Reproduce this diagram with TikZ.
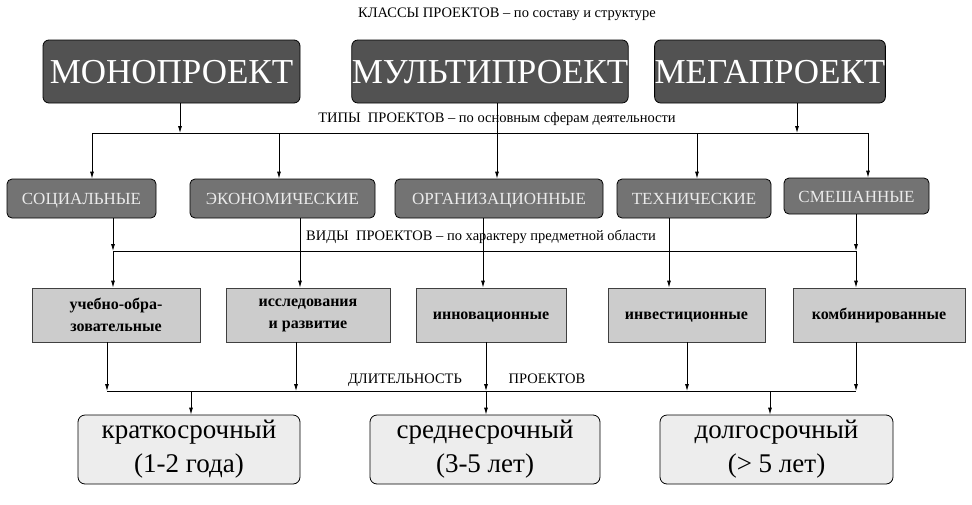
\documentclass[tikz,border=0pt]{standalone}
\usepackage{fontspec}
\setmainfont{Liberation Serif}
\usetikzlibrary{arrows.meta}
\begin{document}
\begin{tikzpicture}[x=1pt,y=-1pt,
 topbox/.style={draw=black,line width=0.8pt,rounded corners=6pt,fill=black!68,text=white,font=\fontsize{35}{38}\selectfont,minimum height=63pt,inner sep=0pt,text height=24pt,text depth=1pt},
 typebox/.style={draw=black,line width=0.8pt,rounded corners=5pt,fill=black!55,text=black!8,font=\fontsize{17}{19}\selectfont,minimum height=39pt,inner sep=0pt,text height=12pt,text depth=0pt},
 kindbox/.style={draw=black!75,line width=0.7pt,fill=black!20,font=\bfseries\fontsize{16}{22}\selectfont,minimum height=54pt,inner sep=0pt,align=center},
 durbox/.style={draw=black,line width=0.8pt,rounded corners=7pt,fill=black!7,font=\fontsize{27}{34}\selectfont,minimum height=69pt,inner sep=0pt,align=center},
 lbl/.style={font=\fontsize{14.5}{16}\selectfont,inner sep=1pt,text height=10pt,text depth=2pt},
 ln/.style={line width=0.8pt},
 arr/.style={line width=0.8pt,-{Latex[length=7pt,width=4pt]}}]
\useasboundingbox (0,0) rectangle (972,504);
\node[lbl] (title) at (507,13) {КЛАССЫ ПРОЕКТОВ -- по составу и структуре};
\node[topbox,minimum width=257pt] (mono) at (171.5,71.5) {МОНОПРОЕКТ};
\node[topbox,minimum width=276pt] (multi) at (490,71.5) {МУЛЬТИПРОЕКТ};
\node[topbox,minimum width=230pt] (mega) at (770,71.5) {МЕГАПРОЕКТ};
\node[lbl] (typl) at (497,118) {ТИПЫ\ \ ПРОЕКТОВ -- по основным сферам деятельности};
\node[typebox,minimum width=149pt] (t1) at (81.5,198.5) {СОЦИАЛЬНЫЕ};
\node[typebox,minimum width=185pt] (t2) at (282.5,198.5) {ЭКОНОМИЧЕСКИЕ};
\node[typebox,minimum width=208pt] (t3) at (499,198.5) {ОРГАНИЗАЦИОННЫЕ};
\node[typebox,minimum width=154pt] (t4) at (694,198.5) {ТЕХНИЧЕСКИЕ};
\node[typebox,minimum width=145pt,minimum height=36pt] (t5) at (856.5,196) {СМЕШАННЫЕ};
\node[lbl] (vidl) at (481,236) {ВИДЫ\ \ ПРОЕКТОВ -- по характеру предметной области};
\node[kindbox,minimum width=168pt] (k1) at (116,315) {учебно-обра-\\зовательные};
\node[kindbox,minimum width=164pt] (k2) at (308,315) {исследования\\и развитие};
\node[kindbox,minimum width=150pt,text height=11pt,text depth=3pt] (k3) at (491,315) {инновационные};
\node[kindbox,minimum width=157pt,text height=11pt,text depth=3pt] (k4) at (686.5,315) {инвестиционные};
\node[kindbox,minimum width=172pt,text height=11pt,text depth=3pt] (k5) at (879,315) {комбинированные};
\node[durbox,minimum width=222pt] (d1) at (189,449.5) {краткосрочный\\(1-2 года)};
\node[durbox,minimum width=230pt] (d2) at (485,449.5) {среднесрочный\\(3-5 лет)};
\node[durbox,minimum width=233pt] (d3) at (776.5,449.5) {долгосрочный\\(> 5 лет)};
\node[lbl] (durl1) at (405,379) {ДЛИТЕЛЬНОСТЬ};
\node[lbl] (durl2) at (547,379) {ПРОЕКТОВ};
% level 1 -> types
\coordinate (b1) at (92,133); \coordinate (b2) at (868,133);
\draw[ln] (b1) -- (b2);
\draw[arr] (mono.south -| 180,0) -- (180,133);
\draw[arr] (mega.south -| 797,0) -- (797,133);
\draw[ln] (multi.south -| 497,0) -- (497,133);
\foreach \x/\t in {92/t1,279/t2,497/t3,697/t4,868/t5} \draw[arr] (\x,133) -- (\t.north -| \x,0);
% types -> kinds
\draw[ln] (113,251) -- (856,251);
\draw[arr] (t1.south -| 113,0) -- (113,251);
\draw[arr] (t5.south -| 856,0) -- (856,251);
\draw[ln] (t2.south -| 300,0) -- (300,251);
\draw[ln] (t3.south -| 483,0) -- (483,251);
\draw[ln] (t4.south -| 669,0) -- (669,251);
\foreach \x/\k in {113/k1,300/k2,483/k3,669/k4,856/k5} \draw[arr] (\x,251) -- (\k.north -| \x,0);
% kinds -> durations
\draw[ln] (107,391) -- (856,391);
\foreach \x/\k in {107/k1,296/k2,486/k3,687/k4,856/k5} \draw[arr] (\k.south -| \x,0) -- (\x,391);
\foreach \x/\d in {191/d1,486/d2,770/d3} \draw[arr] (\x,391) -- (\d.north -| \x,0);
\end{tikzpicture}
\end{document}
